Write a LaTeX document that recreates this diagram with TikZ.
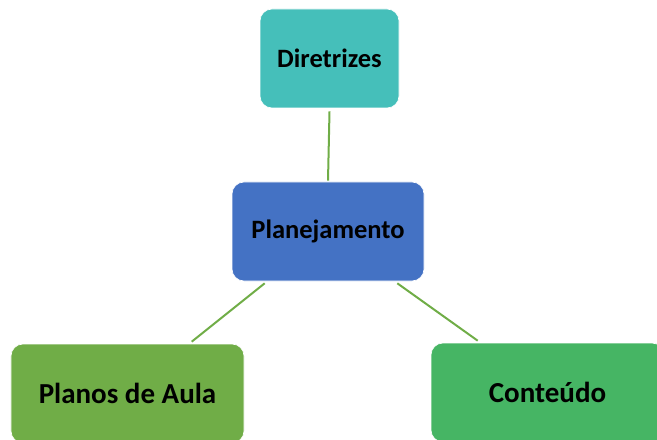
\documentclass[tikz,border=0pt]{standalone}
\usepackage{fontspec}
\setmainfont{Carlito}
\definecolor{tealbox}{HTML}{45BFBA}
\definecolor{bluebox}{HTML}{4472C4}
\definecolor{greenA}{HTML}{70AD47}
\definecolor{greenB}{HTML}{46B564}
\definecolor{linkc}{HTML}{70AD47}
\tikzset{
  box/.style={draw=white, line width=0.6bp, rounded corners=12bp, inner sep=0pt, text=black, font=\bfseries},
  smallbox/.style={box, minimum width=139bp, minimum height=99bp, font=\fontsize{26.5bp}{30bp}\selectfont\bfseries},
  bigbox/.style={box, minimum width=233bp, minimum height=99bp, font=\fontsize{29bp}{33bp}\selectfont\bfseries},
  link/.style={draw=linkc, line width=2bp}
}
\begin{document}
\begin{tikzpicture}[x=1bp,y=-1bp]
\useasboundingbox (0,0) rectangle (657,440);
\clip (0,0) rectangle (657,440);
\node[smallbox, fill=tealbox] (dir) at (329.5,58.5) {Diretrizes};
\node[smallbox, fill=bluebox, minimum width=192bp] (plan) at (328,231.5) {Planejamento};
\node[bigbox, fill=greenA] (aula) at (127.5,393.5) {Planos de Aula};
\node[bigbox, fill=greenB] (cont) at (547.5,392.5) {Conteúdo};
\coordinate (d1) at ([yshift=-3bp]dir.south);
\coordinate (p0) at ([yshift=1bp]plan.north);
\coordinate (p1) at ([xshift=33bp,yshift=-2bp]plan.south west);
\coordinate (p2) at ([xshift=-27bp,yshift=-2bp]plan.south east);
\coordinate (a1) at ([xshift=181bp,yshift=2bp]aula.north west);
\coordinate (c1) at ([xshift=47bp,yshift=2bp]cont.north west);
\draw[link] (d1) -- (p0);
\draw[link] (p1) -- (a1);
\draw[link] (p2) -- (c1);
\end{tikzpicture}
\end{document}
